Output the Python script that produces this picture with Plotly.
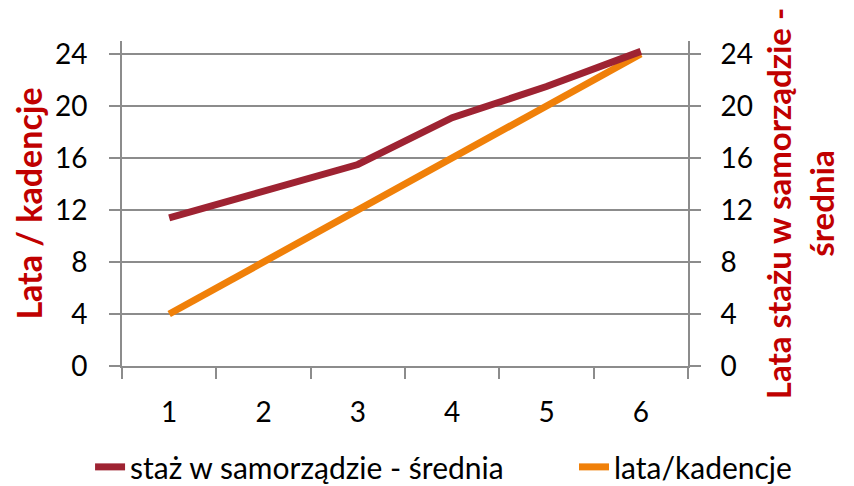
import plotly.graph_objects as go

kadencje = [1, 2, 3, 4, 5, 6]
staz_srednia = [11.4, 13.5, 15.5, 19.1, 21.5, 24.2]
lata_kadencje = [4, 8, 12, 16, 20, 24]

font_name = "Lato"
grid_col = "#8c8c8c"
title_red = "#c00000"

fig = go.Figure()
fig.add_trace(go.Scatter(
    x=kadencje, y=staz_srednia, name="staż w samorządzie - średnia",
    mode="lines", line=dict(color="#9e2332", width=7), yaxis="y2",
    legend="legend"
))
fig.add_trace(go.Scatter(
    x=kadencje, y=lata_kadencje, name="lata/kadencje",
    mode="lines", line=dict(color="#f08009", width=7),
    legend="legend2"
))

# page body has an 8px margin, so the figure is a bit smaller than the window
fig.update_layout(
    width=846, height=478,
    margin=dict(l=114, r=166, t=33, b=120, autoexpand=False),
    showlegend=True,
    paper_bgcolor="white", plot_bgcolor="white",
    font=dict(family=font_name, size=28, color="black"),
    xaxis=dict(
        type="category", tickson="boundaries", ticks="outside", ticklen=11,
        tickwidth=2, tickcolor=grid_col, showgrid=False,
        showline=True, linecolor=grid_col, linewidth=2,
        range=[-0.5, 5.5], ticklabelstandoff=20,
    ),
    yaxis=dict(
        range=[0, 25], tick0=0, dtick=4, ticks="outside", ticklen=11,
        tickwidth=2, tickcolor=grid_col, showgrid=True, gridcolor=grid_col,
        gridwidth=2, showline=True, linecolor=grid_col, linewidth=2,
        zeroline=False, ticklabelstandoff=16,
        title=dict(text="<b>Lata / kadencje</b>", font=dict(color=title_red, size=34),
                   standoff=4),
    ),
    yaxis2=dict(
        range=[0, 25], tick0=0, dtick=4, ticks="outside", ticklen=11,
        tickwidth=2, tickcolor=grid_col, overlaying="y", side="right",
        showgrid=False, showline=True, linecolor=grid_col, linewidth=2,
        zeroline=False, ticklabelstandoff=14,
        title=dict(text="<b>Lata stażu w samorządzie -<br>średnia</b>",
                   font=dict(color=title_red, size=33), standoff=16),
    ),
    legend=dict(
        orientation="h", xref="container", yref="container",
        x=0.097, xanchor="left", y=0.04, yanchor="middle",
        font=dict(size=30), bgcolor="rgba(0,0,0,0)",
    ),
    legend2=dict(
        orientation="h", xref="container", yref="container",
        x=0.669, xanchor="left", y=0.04, yanchor="middle",
        font=dict(size=30), bgcolor="rgba(0,0,0,0)",
    ),
)

fig.write_html("out.html")
